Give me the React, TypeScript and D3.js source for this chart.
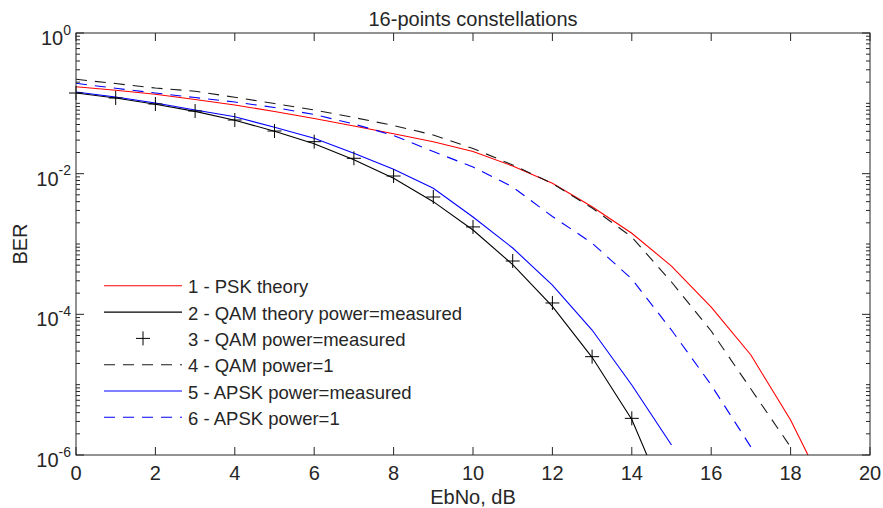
import React from 'react';
import * as d3 from 'd3';

// ---- data ----
const ebnoPSK = [0, 1, 2, 3, 4, 5, 6, 7, 8, 9, 10, 11, 12, 13, 14, 15, 16, 17, 18, 19];
const berPSK = [0.1723, 0.1532, 0.1349, 0.1133, 0.0947, 0.0765, 0.0609, 0.0476, 0.0369, 0.0285, 0.0206, 0.01285, 0.0073, 0.00339, 0.00142, 4.86e-4, 1.27e-4, 2.64e-5, 3.14e-6, 2.3e-7];

const ebnoQAMTheory = [0, 1, 2, 3, 4, 5, 6, 7, 8, 9, 10, 11, 12, 13, 14, 15];
const berQAMTheory = [0.1405, 0.1188, 0.0972, 0.0768, 0.0575, 0.0402, 0.0266, 0.0158, 0.0086, 0.0040, 0.00158, 5.1e-4, 1.3e-4, 2.45e-5, 3.2e-6, 1.5e-7];

const ebnoQAMMeas = [0, 1, 2, 3, 4, 5, 6, 7, 8, 9, 10, 11, 12, 13, 14];
const berQAMMeas = [0.1402, 0.1191, 0.0978, 0.0778, 0.0579, 0.0404, 0.0285, 0.01654, 0.00926, 0.00466, 0.00175, 5.73e-4, 1.45e-4, 2.5e-5, 3.32e-6];

const ebnoQAM1 = [0, 1, 2, 3, 4, 5, 6, 7, 8, 9, 10, 11, 12, 13, 14, 15, 16, 17, 18];
const berQAM1 = [0.2196, 0.191, 0.165, 0.1488, 0.1218, 0.0995, 0.0804, 0.0629, 0.0484, 0.0355, 0.0228, 0.0133, 0.00724, 0.00325, 0.001257, 2.88e-4, 5.79e-5, 8.67e-6, 1.3e-6];

const ebnoAPSKMeas = [0, 1, 2, 3, 4, 5, 6, 7, 8, 9, 10, 11, 12, 13, 14, 15];
const berAPSKMeas = [0.1449, 0.123, 0.1011, 0.0804, 0.0645, 0.0456, 0.0318, 0.0195, 0.01153, 0.00619, 0.00242, 8.77e-4, 2.61e-4, 5.98e-5, 9.89e-6, 1.39e-6];

const ebnoAPSK1 = [0, 1, 2, 3, 4, 5, 6, 7, 8, 9, 10, 11, 12, 13, 14, 15, 16, 17];
const berAPSK1 = [0.1927, 0.1636, 0.1402, 0.121, 0.1044, 0.0873, 0.0694, 0.0508, 0.0349, 0.02066, 0.01244, 0.00646, 0.00246, 0.00103, 3.18e-4, 5.98e-5, 9.89e-6, 1.3e-6];

const xTicks = [0, 2, 4, 6, 8, 10, 12, 14, 16, 18, 20];
const yTickExps = [0, -2, -4, -6];

const legendLabels = [
  '1 - PSK theory',
  '2 - QAM theory power=measured',
  '3 - QAM power=measured',
  '4 - QAM power=1',
  '5 - APSK power=measured',
  '6 - APSK power=1',
];

const title = '16-points constellations';
const xLabel = 'EbNo, dB';
const yLabel = 'BER';

// ---- layout ----
const W = 883;
const H = 508;
const L = 76, R = 870, T = 33, B = 455;
const AX = '#262626';
const FONT = '"Liberation Sans", Arial, Helvetica, sans-serif';

export default function App() {
  const x = d3.scaleLinear().domain([0, 20]).range([L, R]);
  const y = d3.scaleLog().domain([1e-6, 1]).range([B, T]);
  const line = d3.line<[number, number]>().x(d => x(d[0])).y(d => y(d[1]));
  const zip = (a: number[], b: number[]) => a.map((v, i) => [v, b[i]] as [number, number]);

  const series = [
    { xs: ebnoPSK, ys: berPSK, color: '#ff0000', dash: undefined, marker: false, line: true },
    { xs: ebnoQAMTheory, ys: berQAMTheory, color: '#000000', dash: undefined, marker: false, line: true },
    { xs: ebnoQAMMeas, ys: berQAMMeas, color: '#000000', dash: undefined, marker: true, line: false },
    { xs: ebnoQAM1, ys: berQAM1, color: '#1a1a1a', dash: '11,8', marker: false, line: true },
    { xs: ebnoAPSKMeas, ys: berAPSKMeas, color: '#0000ff', dash: undefined, marker: false, line: true },
    { xs: ebnoAPSK1, ys: berAPSK1, color: '#0000ff', dash: '11,8', marker: false, line: true },
  ];

  const minor: number[] = [];
  for (let k = -6; k < 0; k++) {
    for (let m = 1; m <= 9; m++) {
      const v = m * Math.pow(10, k);
      if (m === 1 && (k % 2 === 0)) continue;
      minor.push(v);
    }
  }

  const plus = (cx: number, cy: number, key: string, s = 7) => (
    <g key={key} stroke="#000" strokeWidth={1}>
      <line x1={cx - s} x2={cx + s} y1={cy} y2={cy} />
      <line x1={cx} x2={cx} y1={cy - s} y2={cy + s} />
    </g>
  );

  const legY0 = 285.8, legDy = 26.3;

  return (
    <svg width={W} height={H} style={{ position: 'absolute', left: 0, top: 0, background: '#fff' }}
      fontFamily={FONT}>
      <defs>
        <clipPath id="plotclip">
          <rect x={L} y={T} width={R - L} height={B - T} />
        </clipPath>
      </defs>
      <rect x={0} y={0} width={W} height={H} fill="#fff" />

      {/* curves */}
      <g clipPath="url(#plotclip)" fill="none">
        {series.filter(s => s.line).map((s, i) => (
          <path key={i} d={line(zip(s.xs, s.ys)) || ''} stroke={s.color} strokeWidth={1.1}
            strokeDasharray={s.dash} />
        ))}
      </g>
      {series.filter(s => s.marker).map((s, i) => (
        <g key={'m' + i}>
          {s.xs.map((xv, j) => plus(x(xv), y(s.ys[j]), 'p' + j))}
        </g>
      ))}

      {/* axes box */}
      <rect x={L} y={T} width={R - L} height={B - T} fill="none" stroke={AX} strokeWidth={1} />

      {/* x ticks */}
      {xTicks.map(t => (
        <g key={'xt' + t} stroke={AX}>
          <line x1={x(t)} x2={x(t)} y1={B} y2={B - 8} />
          <line x1={x(t)} x2={x(t)} y1={T} y2={T + 8} />
        </g>
      ))}
      {xTicks.map(t => (
        <text key={'xl' + t} x={x(t)} y={480} textAnchor="middle" fontSize={20} fill={AX}>{t}</text>
      ))}

      {/* y ticks */}
      {yTickExps.map(e => (
        <g key={'yt' + e} stroke={AX}>
          <line x1={L} x2={L + 8} y1={y(Math.pow(10, e))} y2={y(Math.pow(10, e))} />
          <line x1={R} x2={R - 8} y1={y(Math.pow(10, e))} y2={y(Math.pow(10, e))} />
        </g>
      ))}
      {minor.map((v, i) => (
        <g key={'ym' + i} stroke={AX}>
          <line x1={L} x2={L + 4} y1={y(v)} y2={y(v)} />
          <line x1={R} x2={R - 4} y1={y(v)} y2={y(v)} />
        </g>
      ))}
      {yTickExps.map(e => (
        <text key={'yl' + e} x={71} y={y(Math.pow(10, e)) + 12} textAnchor="end" fontSize={20} fill={AX}>
          <tspan>10</tspan>
          <tspan dy={-10.5} fontSize={14}>{String(e)}</tspan>
        </text>
      ))}

      {/* labels */}
      <text x={(L + R) / 2} y={26} textAnchor="middle" fontSize={20} fill={AX}>{title}</text>
      <text x={(L + R) / 2} y={504} textAnchor="middle" fontSize={20} fill={AX}>{xLabel}</text>
      <text transform={`translate(27,${(T + B) / 2}) rotate(-90)`} textAnchor="middle" fontSize={20} fill={AX}>{yLabel}</text>

      {/* legend */}
      {series.map((s, i) => {
        const ly = legY0 + i * legDy;
        return (
          <g key={'lg' + i}>
            {s.line && (
              <line x1={104} x2={182} y1={ly} y2={ly} stroke={s.color} strokeWidth={1.1}
                strokeDasharray={s.dash} />
            )}
            {s.marker && plus(143, ly, 'lm' + i)}
            <text x={188} y={ly + 7.5} fontSize={18.5} fill={AX}>{legendLabels[i]}</text>
          </g>
        );
      })}
    </svg>
  );
}
